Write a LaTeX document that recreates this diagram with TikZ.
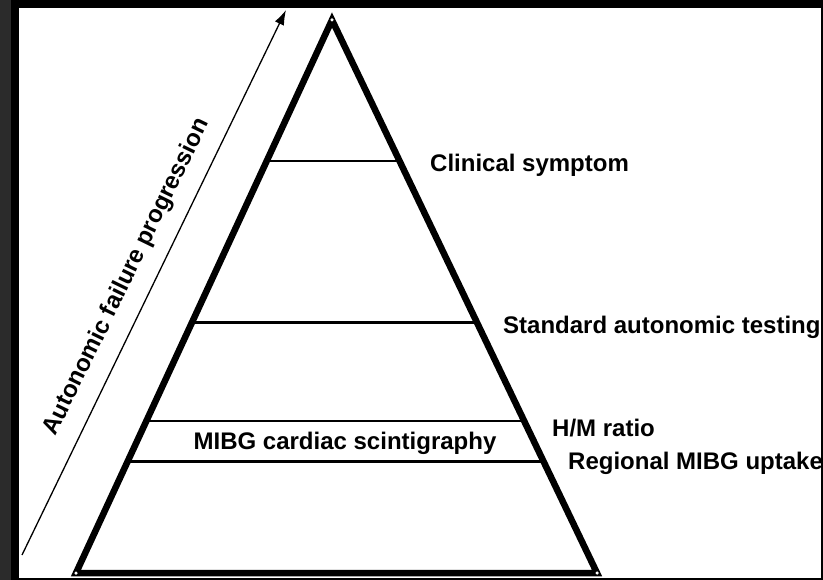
\documentclass[tikz,border=0pt]{standalone}
\usepackage{fontspec}
\setmainfont{Liberation Sans}
\usetikzlibrary{arrows.meta,calc}
\begin{document}
\begin{tikzpicture}[x=1pt,y=-1pt,
  lbl/.style={font=\fontsize{24}{28}\selectfont\bfseries, inner sep=0pt},
  side/.style={line width=6.5pt, line join=miter},
  layer/.style={line width=2.8pt},
  dot/.style={circle, fill=white, inner sep=0pt, minimum size=3.5pt}]
\useasboundingbox (0,0) rectangle (823,580);
\fill[black] (0,0) rectangle (823,580);
\fill[black!83] (0,0) rectangle (11,580);
\fill[white] (19,8) rectangle (821,578);
% pyramid
\coordinate (apex) at (332,20);
\coordinate (bl) at (76,573);
\coordinate (br) at (597,573);
\draw[side] (apex) -- (bl) -- (br) -- cycle;
\node[dot] at (apex) {};
\node[dot] at (bl) {};
\node[dot] at (br) {};
% layers
\foreach \t/\n in {0.255/a,0.547/b,0.725/c,0.799/d}{
  \coordinate (L\n) at ($(apex)!\t!(bl)$);
  \coordinate (R\n) at ($(apex)!\t!(br)$);
  \draw[layer] (L\n) -- (R\n);
}
% labels
\node[lbl, anchor=west] (cs) at (430,165) {Clinical symptom};
\node[lbl, anchor=west] (sat) at (503,327) {Standard autonomic testing};
\node[lbl, anchor=west] (hm) at (552,428) {H/M ratio};
\node[lbl, anchor=west] (rm) at (568,463) {Regional MIBG uptake};
\node[lbl] (mibg) at (345,443) {MIBG cardiac scintigraphy};
% progression arrow
\coordinate (tail) at (22,555);
\coordinate (tip) at (286,10);
\draw[line width=1.3pt, -{Latex[length=15pt,width=10pt]}] (tail) -- (tip);
\node[lbl, rotate=64] (afp) at (127,277) {Autonomic failure progression};
\end{tikzpicture}
\end{document}
